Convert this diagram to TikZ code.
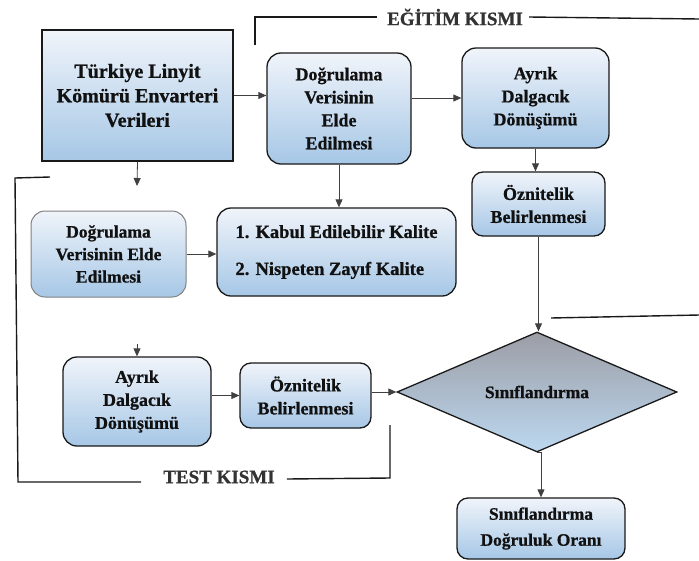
\documentclass[tikz,border=0pt]{standalone}
\usepackage{fontspec}
\setmainfont{Liberation Serif}[BoldFeatures={FakeBold=0.8}]
\usetikzlibrary{arrows.meta,shapes.geometric}
\definecolor{txt}{HTML}{111111}
\definecolor{topc}{HTML}{F0F4FA}
\definecolor{botc}{HTML}{A6C7E6}
\definecolor{diagtop}{HTML}{9C9DA5}
\definecolor{diagbot}{HTML}{BCD8F0}
\tikzset{
  box/.style={draw=black!90, line width=1.3pt, rounded corners=14pt, top color=topc, bottom color=botc,
    align=center, font=\bfseries\fontsize{18}{23}\selectfont, text=txt, inner sep=0pt},
  arr/.style={draw=black!75, line width=0.8pt, -{Triangle[length=8pt,width=7pt]}},
  frameline/.style={draw=black!90, line width=1.4pt},
  titletext/.style={font=\bfseries\fontsize{19}{20}\selectfont, text=black!80, inner sep=0pt}
}
\begin{document}
\begin{tikzpicture}[x=1pt,y=-1pt]
\useasboundingbox (0,0) rectangle (699,560);
% nodes
\node[box, rounded corners=0pt, minimum width=191pt, minimum height=131pt,
      font=\bfseries\fontsize{20}{24.5}\selectfont] (A) at (137.5,95.5) {Türkiye Linyit\\Kömürü Envarteri\\Verileri};
\node[box, minimum width=144pt, minimum height=111pt] (B) at (339,108.5) {Doğrulama\\Verisinin\\Elde\\Edilmesi};
\node[box, minimum width=147pt, minimum height=100pt] (C) at (535.5,98) {Ayrık\\Dalgacık\\Dönüşümü};
\node[box, rounded corners=11pt, minimum width=133pt, minimum height=64pt] (D) at (538.5,204) {Öznitelik\\Belirlenmesi};
\node[box, draw=black!50, line width=1pt, minimum width=155pt, minimum height=86pt,
      font=\bfseries\fontsize{17.5}{22.5}\selectfont] (E) at (108.5,254) {Doğrulama\\Verisinin Elde\\Edilmesi};
\node[box, align=left, minimum width=239pt, minimum height=88pt,
      font=\bfseries\fontsize{18.5}{37}\selectfont] (F) at (336.5,252) {1. Kabul Edilebilir Kalite\\2. Nispeten Zayıf Kalite};
\node[box, minimum width=148pt, minimum height=89pt] (G) at (137,401.5) {Ayrık\\Dalgacık\\Dönüşümü};
\node[box, rounded corners=11pt, minimum width=131pt, minimum height=65pt] (H) at (305.5,395.5) {Öznitelik\\Belirlenmesi};
\node[diamond, aspect=2.33, draw=black!90, line width=1.3pt, top color=diagtop, bottom color=diagbot,
      minimum width=280pt, minimum height=120pt, inner sep=0pt,
      font=\bfseries\fontsize{17.5}{20}\selectfont, text=txt] (S) at (537,392) {Sınıflandırma};
\node[box, rounded corners=11pt, minimum width=168pt, minimum height=61pt,
      font=\bfseries\fontsize{17.5}{26}\selectfont] (I) at (541,528.5) {Sınıflandırma\\Doğruluk Oranı};
% free ends
\coordinate (a0) at (137,186);
\coordinate (g0) at (137,344);
% arrows
\draw[arr] (A.east) -- (A.east -| B.west);
\draw[arr] (A.south) -- (a0);
\draw[arr] (B.east |- C.west) -- (C.west);
\draw[arr] (B.south) -- (B.south |- F.north);
\draw[arr] (C.south) -- (C.south |- D.north);
\draw[arr] (D.south) -- (D.south |- S.north);
\draw[arr] (E.east) -- (E.east -| F.west);
\draw[arr] (g0) -- (G.north);
\draw[arr] (H.west -| G.east) -- (H.west);
\draw[arr] (S.west -| H.east) -- (S.west);
\draw[arr] (S.south) -- (S.south -| I.north) -- (I.north);
% training bracket
\node[titletext] (T1) at (455,17) {EĞİTİM KISMI};
\coordinate (e0) at (255,45);
\coordinate (e1) at (255,17);
\coordinate (e2) at (699,19);
\draw[frameline] (e0) -- (e1) -- ([xshift=-10pt]T1.west);
\draw[frameline] ([xshift=6pt]T1.east) -- (e2);
\coordinate (r0) at (551,318);
\coordinate (r1) at (699,315);
\draw[frameline] (r0) -- (r1);
% test bracket
\node[titletext] (T2) at (219,477) {TEST KISMI};
\coordinate (t0) at (50,177);
\coordinate (t1) at (15,178);
\coordinate (t2) at (18,482);
\coordinate (t3) at (390,478);
\coordinate (t4) at (390,425);
\draw[frameline] (t0) -- (t1) -- (t2) -- ([xshift=-22pt]T2.west |- t2);
\draw[frameline] ([xshift=12pt]T2.east |- 0,479) -- (t3) -- (t4);
\end{tikzpicture}
\end{document}
